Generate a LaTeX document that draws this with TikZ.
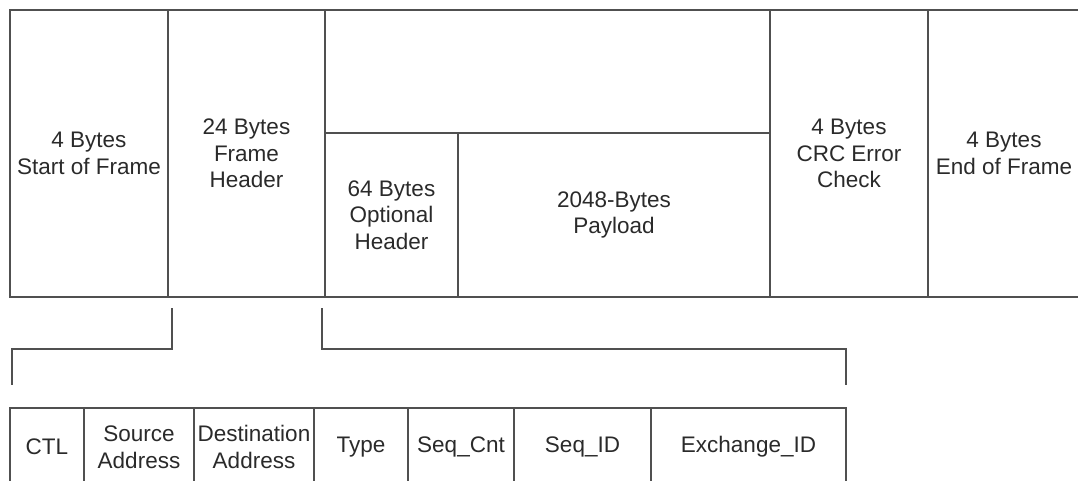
\documentclass[tikz,border=0pt]{standalone}
\usepackage{fontspec}
\setmainfont{Liberation Sans}
\definecolor{ln}{HTML}{505050}
\definecolor{tx}{HTML}{2A2A2A}
\begin{document}
\begin{tikzpicture}[x=0.025cm,y=-0.025cm,
  cell/.style={draw=ln,line width=1.1pt,inner sep=0pt,align=center,text=tx,
    font=\fontsize{16}{19}\selectfont},
  label/.style={align=center,text=tx,inner sep=0pt,font=\fontsize{16}{19}\selectfont},
  conn/.style={draw=ln,line width=1.1pt}]
\useasboundingbox (0,0) rectangle (1078,480);
\clip (0,0) rectangle (1078,480);
% top frame
\node[cell,minimum width=158*0.025cm,minimum height=287*0.025cm] (sof) at (89,153.5) {4 Bytes\\Start of Frame};
\node[cell,minimum width=157*0.025cm,minimum height=287*0.025cm] (fh) at (246.5,153.5) {24 Bytes\\Frame\\Header};
\node[cell,minimum width=445*0.025cm,minimum height=123*0.025cm] (top) at (547.5,71.5) {};
\node[cell,minimum width=133*0.025cm,minimum height=164*0.025cm] (oh) at (391.5,215) {64 Bytes\\Optional\\Header};
\node[cell,minimum width=312*0.025cm,minimum height=164*0.025cm] (pl) at (614,215) {2048-Bytes\\Payload};
\node[cell,minimum width=158*0.025cm,minimum height=287*0.025cm] (crc) at (849,153.5) {4 Bytes\\CRC Error\\Check};
\node[cell,minimum width=160*0.025cm,minimum height=287*0.025cm] (eof) at (1008,153.5) {};
\node[label] (eoft) at (1004,153.5) {4 Bytes\\End of Frame};
% bottom table
\node[cell,minimum width=74*0.025cm,minimum height=78*0.025cm] (ctl) at (47,447) {CTL};
\node[cell,minimum width=110*0.025cm,minimum height=78*0.025cm] (src) at (139,447) {Source\\Address};
\node[cell,minimum width=120*0.025cm,minimum height=78*0.025cm] (dst) at (254,447) {Destination\\Address};
\node[cell,minimum width=94*0.025cm,minimum height=78*0.025cm] (type) at (361,447) {Type};
\node[cell,minimum width=106*0.025cm,minimum height=78*0.025cm] (scnt) at (461,447) {Seq\_Cnt};
\node[cell,minimum width=137*0.025cm,minimum height=78*0.025cm] (sid) at (582.5,447) {Seq\_ID};
\node[cell,minimum width=195*0.025cm,minimum height=78*0.025cm] (xid) at (748.5,447) {Exchange\_ID};
% brackets
\coordinate (la) at (172,308);
\coordinate (lb) at (12,385);
\coordinate (ra) at (322,308);
\coordinate (rb) at (846,385);
\draw[conn] (la) |- (12,349) -- (lb);
\draw[conn] (ra) |- (846,349) -- (rb);
\end{tikzpicture}
\end{document}
